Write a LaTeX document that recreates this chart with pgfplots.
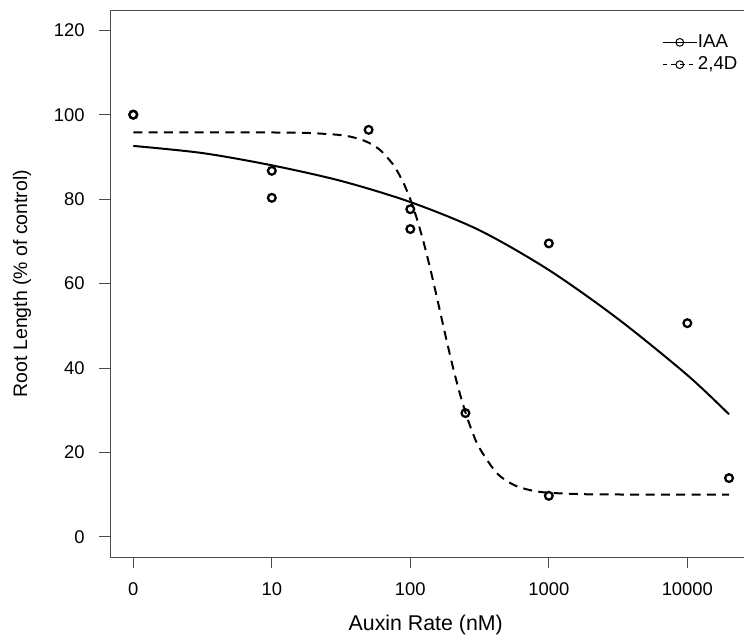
\documentclass[border=0pt]{standalone}
\usepackage{fontspec}
\setmainfont{Liberation Sans}
\usepackage{pgfplots}
\pgfplotsset{compat=1.18}
\begin{document}
\begin{tikzpicture}
\begin{axis}[name=ax, at={(0,0)}, anchor=south west,
  scale only axis, width=475.5pt, height=410.25pt,
  xmode=log, xmin=0.679, xmax=25645, ymin=-4.8, ymax=124.8,
  axis x line*=box, axis y line*=left,
  xtick pos=bottom, ytick pos=left,
  xtick={1,10,100,1000,10000}, xticklabels={0,10,100,1000,10000},
  ytick={0,20,...,120},
  minor xtick={}, xminorticks=false,
  tick align=outside, major tick length=8pt,
  axis line style={black!70, line width=0.6pt},
  tick style={black!70, line width=0.6pt},
  /pgf/number format/assume math mode=true,
  ticklabel style={font=\fontsize{13.8}{16}\selectfont},
  yticklabel style={xshift=-7.5pt},
  xticklabel style={yshift=-8pt},
  xlabel={Auxin Rate (nM)}, ylabel={Root Length (\% of control)},
  xlabel style={font=\fontsize{16}{19}\selectfont, at={(axis description cs:0.498,-0.1335)}, anchor=base},
  ylabel style={font=\fontsize{14.6}{18}\selectfont, at={(axis description cs:-0.1388,0.5)}, anchor=center},
  legend image code/.code={\draw[mark repeat=2,mark phase=2,#1] plot coordinates {(0pt,0pt)(12.75pt,0pt)(25.5pt,0pt)};},
  legend style={at={(rel axis cs:0.8707,0.9575)}, anchor=north west, draw=none, fill=none,
    inner sep=0pt, font=\fontsize{14}{16}\selectfont, row sep=3.5pt,
    nodes={inner sep=0.5pt, text height=10pt, text depth=2.25pt}},
  legend cell align=left,
]
\addlegendimage{black, line width=0.75pt, mark=o, mark size=2.9pt, mark options={solid, line width=0.75pt}}
\addlegendentry{IAA}
\addlegendimage{black, line width=0.75pt, dash pattern=on 3.5pt off 3pt, mark=o, mark size=2.9pt, mark options={solid, line width=0.75pt}}
\addlegendentry{2,4D}

% IAA fitted curve
\addplot[black, line width=1.5pt, smooth, forget plot] coordinates {
(1,92.6) (3.162,90.9) (10,88.0) (31.62,84.3) (100,79.3) (316.2,72.6)
(1000,63.2) (3162,51.6) (10000,38.3) (20000,29.0)};

% 2,4D fitted curve
\addplot[black, line width=1.5pt, dash pattern=on 6.75pt off 4.75pt, smooth, forget plot] coordinates {
(1,95.8) (3.162,95.8) (10,95.78) (17.78,95.68) (31.62,95.16) (42.17,94.31)
(50.12,93.35) (56.23,92.40) (63.1,91.09) (74.99,88.24) (79.43,86.97) (89.13,83.89)
(100,79.96) (112.2,75.07) (125.9,69.27) (141.3,62.66) (158.5,55.53) (177.8,48.24)
(199.5,41.22) (223.9,34.82) (251.2,29.27) (281.8,24.65) (316.2,20.97) (421.7,15.05)
(562.3,12.23) (749.9,10.97) (1000,10.42) (1778,10.08) (3162,10.01) (10000,10.0) (20000,10.0)};

% IAA data
\addplot[only marks, mark=o, mark size=2.9pt, mark options={black, line width=1.7pt}, forget plot] coordinates {
(1,100) (10,86.7) (10,80.3) (100,77.6) (1000,69.5) (10000,50.6)};
% 2,4D data
\addplot[only marks, mark=o, mark size=2.9pt, mark options={black, line width=1.7pt}, forget plot] coordinates {
(1,100) (50,96.4) (100,72.9) (250,29.3) (1000,9.7) (20000,13.9)};
\end{axis}
\pgfresetboundingbox
\path[use as bounding box] ([shift={(-82.5pt,-60pt)}]ax.south west) rectangle ([shift={(0pt,7.5pt)}]ax.north east);
\end{tikzpicture}
\end{document}
